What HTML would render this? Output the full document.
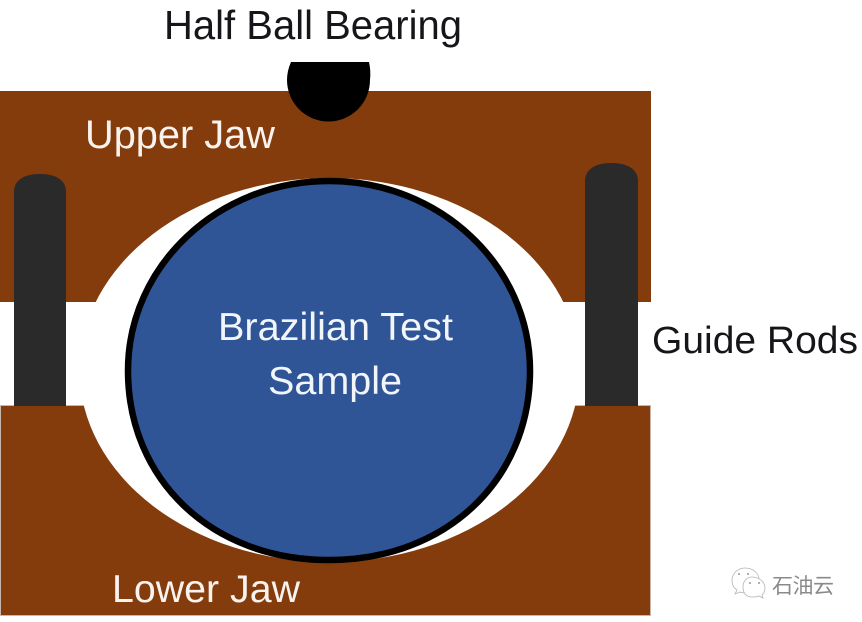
<!DOCTYPE html>
<html><head><meta charset="utf-8"><style>
html,body{margin:0;padding:0;background:#fff;width:862px;height:622px;overflow:hidden}
svg{display:block}
text{font-family:"Liberation Sans","Noto Sans CJK SC",sans-serif;filter:blur(.35px)}
</style></head><body>
<svg width="862" height="622" viewBox="0 0 862 622" xmlns="http://www.w3.org/2000/svg">
<rect width="862" height="622" fill="#fff"/>
<rect x="0" y="91" width="651" height="211" fill="#843c0c"/>
<rect x="0.500" y="405.500" width="650" height="210" fill="#843c0c" stroke="#c8b8ac" stroke-width="1"/>
<rect x="0" y="302" width="651" height="103" fill="#fff"/>
<ellipse cx="329.500" cy="370" rx="250" ry="192" fill="#fff"/>
<path d="M14 406V192C14 180 24 174 40 174C56 174 66 180 66 192V406Z" fill="#2a2a2a"/>
<path d="M585 406V181C585 169 596 163 611 163C627 163 638 169 638 181V406Z" fill="#2a2a2a"/>
<path d="M291 62H369Q371 71 370 80A41.500 41.500 0 0 1 287 80Q287 71 291 62Z" fill="#000"/>
<path d="M128 370.500C128 266 218 181 329 181C440 181 530 266 530 370.500C530 480.500 445.600 560 329 560C212.400 560 128 480.500 128 370.500Z" fill="#2f5597" stroke="#000" stroke-width="6.500"/>
<text x="164" y="39" font-size="41" fill="#16161a" textLength="298" lengthAdjust="spacingAndGlyphs">Half Ball Bearing</text>
<text x="85" y="148" font-size="40" fill="#f8f3ee" textLength="190" lengthAdjust="spacingAndGlyphs">Upper Jaw</text>
<text x="218" y="340" font-size="39" fill="#f2f5fa" textLength="235" lengthAdjust="spacingAndGlyphs">Brazilian Test</text>
<text x="268" y="394" font-size="39" fill="#f2f5fa" textLength="134" lengthAdjust="spacingAndGlyphs">Sample</text>
<text x="652" y="353" font-size="38" fill="#16161a" textLength="206" lengthAdjust="spacingAndGlyphs">Guide Rods</text>
<text x="112" y="602" font-size="39" fill="#f8f3ee" textLength="188" lengthAdjust="spacingAndGlyphs">Lower Jaw</text>
<g fill="#fff" stroke="#b4b4b4" stroke-width="0.800">
<path d="M745 568C737 568 732 574 732 581C732 585 734 588 737 590L735 594L740 592C742 593 744 593 746 593C754 593 759 587 759 580C759 573 753 568 745 568Z"/>
<path d="M752 577C759 577 765 582 765 588C765 591 764 593 762 595L763 598L759 596C757 597 755 597 752 597C746 597 743 593 743 587C743 582 746 577 752 577Z"/>
</g>
<g fill="#999"><circle cx="739" cy="574" r="1"/><circle cx="748" cy="574" r="1"/><circle cx="750" cy="583" r="1"/><circle cx="759" cy="583" r="1"/></g>
<text x="772" y="593" font-size="21" fill="#8a8a8a" textLength="62" lengthAdjust="spacing">石油云</text>
</svg>
</body></html>
